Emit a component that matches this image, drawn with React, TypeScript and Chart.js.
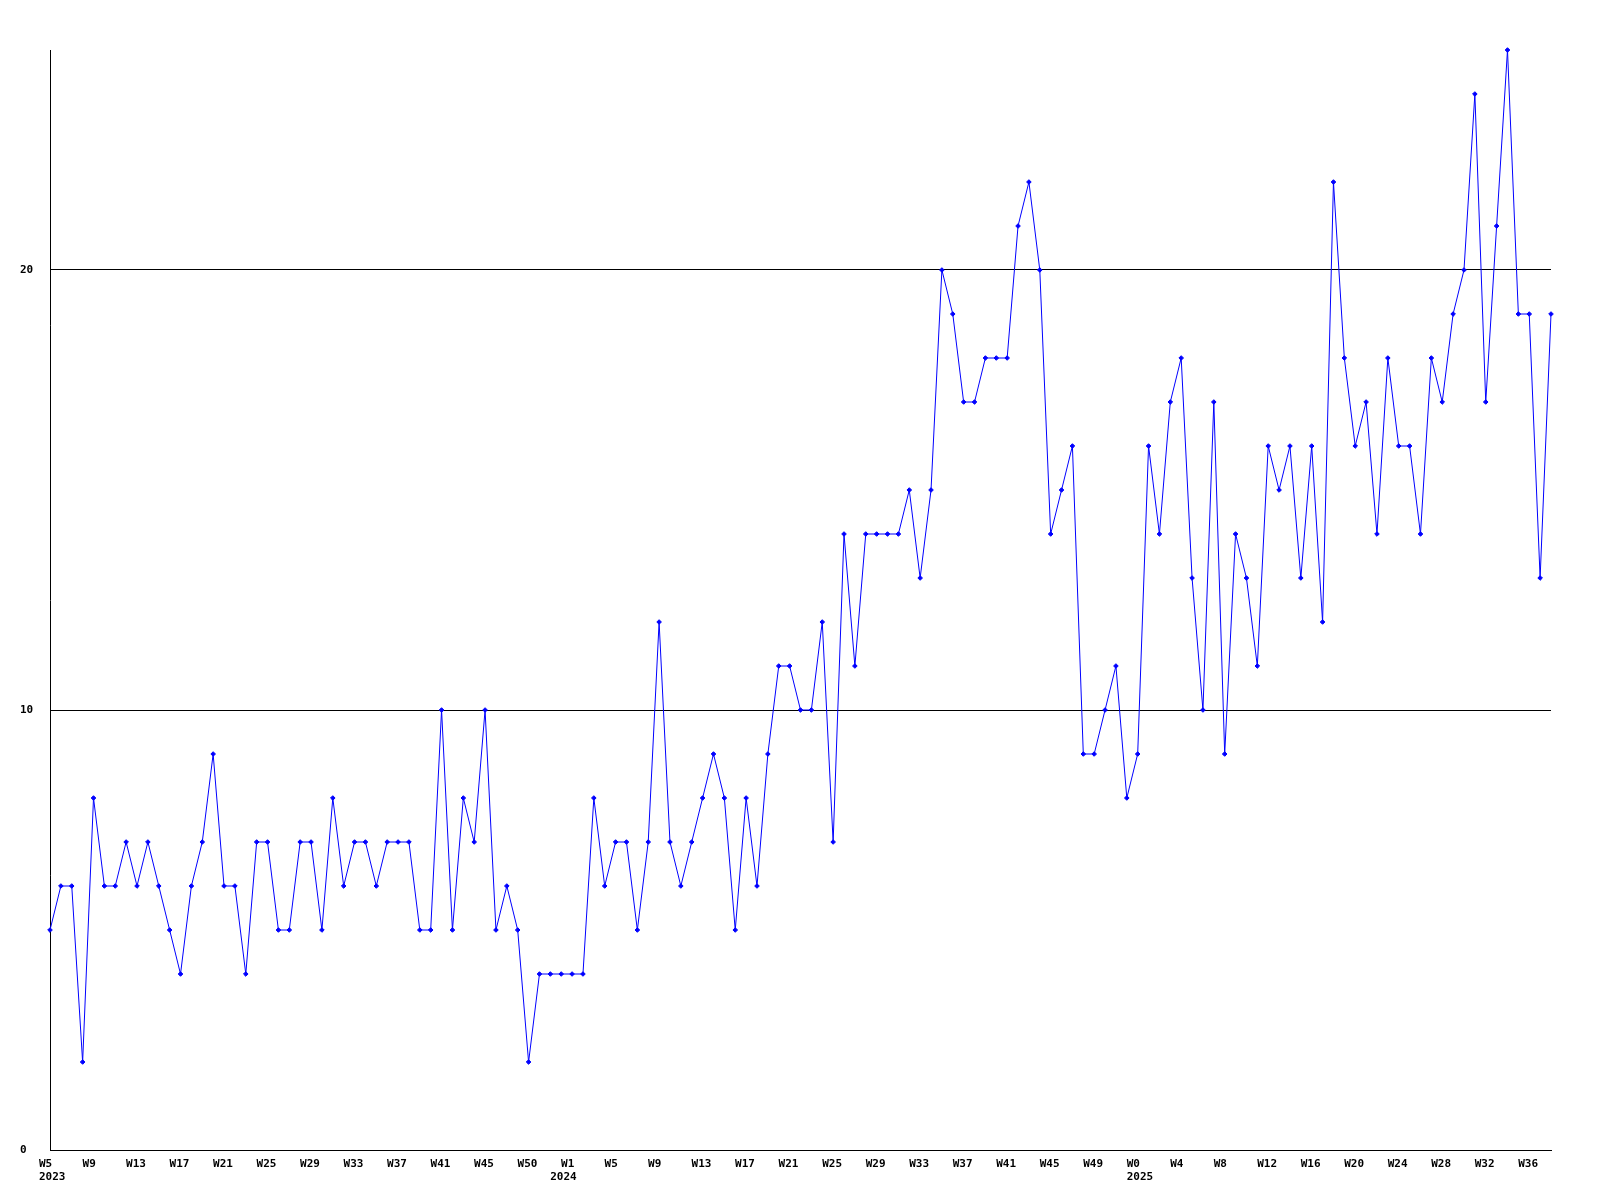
import React, { useEffect, useRef } from "react";
import { Chart, registerables } from "chart.js";

Chart.register(...registerables);

// Weekly values, one per week from W5 2023 onward
const values: number[] = [
  5, 6, 6, 2, 8, 6, 6, 7, 6, 7, 6, 5, 4, 6, 7, 9, 6, 6, 4, 7,
  7, 5, 5, 7, 7, 5, 8, 6, 7, 7, 6, 7, 7, 7, 5, 5, 10, 5, 8, 7,
  10, 5, 6, 5, 2, 4, 4, 4, 4, 4, 8, 6, 7, 7, 5, 7, 12, 7, 6, 7,
  8, 9, 8, 5, 8, 6, 9, 11, 11, 10, 10, 12, 7, 14, 11, 14, 14, 14, 14, 15,
  13, 15, 20, 19, 17, 17, 18, 18, 18, 21, 22, 20, 14, 15, 16, 9, 9, 10, 11, 8,
  9, 16, 14, 17, 18, 13, 10, 17, 9, 14, 13, 11, 16, 15, 16, 13, 16, 12, 22, 18,
  16, 17, 14, 18, 16, 16, 14, 18, 17, 19, 20, 24, 17, 21, 25, 19, 19, 13, 19,
];

// Week tick labels, one every 4 weeks
const weekTicks: string[] = [
  "W5", "W9", "W13", "W17", "W21", "W25", "W29", "W33", "W37", "W41", "W45", "W50",
  "W1", "W5", "W9", "W13", "W17", "W21", "W25", "W29", "W33", "W37", "W41", "W45", "W49",
  "W0", "W4", "W8", "W12", "W16", "W20", "W24", "W28", "W32", "W36",
];
const tickEvery = 4;
// Year labels and the week (index) where each year starts
const yearLabels: string[] = ["2023", "2024", "2025"];
const yearTickIndex: number[] = [0, 47, 100];
const yTicks: number[] = [0, 10, 20];

export default function App() {
  const ref = useRef<HTMLCanvasElement>(null);
  useEffect(() => {
    if (!ref.current) return;
    const font = { family: "'DejaVu Sans Mono', monospace", size: 11, weight: "bold" as const, lineHeight: 1.23 };
    const tickPositions = Array.from(
      new Set([...weekTicks.map((_, i) => i * tickEvery), ...yearTickIndex])
    ).sort((a, b) => a - b);
    const chart = new Chart(ref.current, {
      type: "line",
      data: {
        datasets: [
          {
            data: values.map((v, i) => ({ x: i, y: v })),
            borderColor: "#0000ff",
            backgroundColor: "#0000ff",
            borderWidth: 1,
            pointStyle: "rectRot",
            pointRadius: 2.3,
            pointBorderWidth: 1,
            pointHoverRadius: 2.3,
            tension: 0,
            fill: false,
            clip: false as any,
          },
        ],
      },
      options: {
        animation: false,
        responsive: false,
        events: [],
        layout: { padding: { top: 50, right: 49, left: 20, bottom: 0 } },
        plugins: { legend: { display: false }, tooltip: { enabled: false } },
        scales: {
          x: {
            type: "linear",
            min: 0,
            max: values.length - 1,
            afterBuildTicks: (scale: any) => {
              scale.ticks = tickPositions.map((v) => ({ value: v }));
            },
            afterFit: (scale: any) => {
              scale.height = 50;
            },
            grid: { display: false, drawTicks: false },
            border: { display: true, color: "#000000", width: 1 },
            ticks: {
              autoSkip: false,
              maxRotation: 0,
              padding: 7,
              align: "start",
              labelOffset: -11,
              color: "#000000",
              font,
              callback: (value: any) => {
                const v = Math.round(Number(value));
                const week = v % tickEvery === 0 ? weekTicks[v / tickEvery] ?? "" : "";
                const yi = yearTickIndex.indexOf(v);
                return yi >= 0 ? [week, yearLabels[yi]] : week;
              },
            },
          },
          y: {
            type: "linear",
            min: 0,
            max: 25,
            afterBuildTicks: (scale: any) => {
              scale.ticks = yTicks.map((v) => ({ value: v }));
            },
            afterFit: (scale: any) => {
              scale.width = 30;
            },
            grid: { display: true, color: "#000000", lineWidth: 1, drawTicks: false },
            border: { display: true, color: "#000000", width: 1 },
            ticks: { padding: 17, crossAlign: "far", color: "#000000", font },
          },
        },
      },
    });
    return () => chart.destroy();
  }, []);
  return (
    <div style={{ position: "absolute", left: 0, top: 0, width: 1600, height: 1200, background: "#ffffff" }}>
      <canvas ref={ref} width={1600} height={1200} />
    </div>
  );
}
